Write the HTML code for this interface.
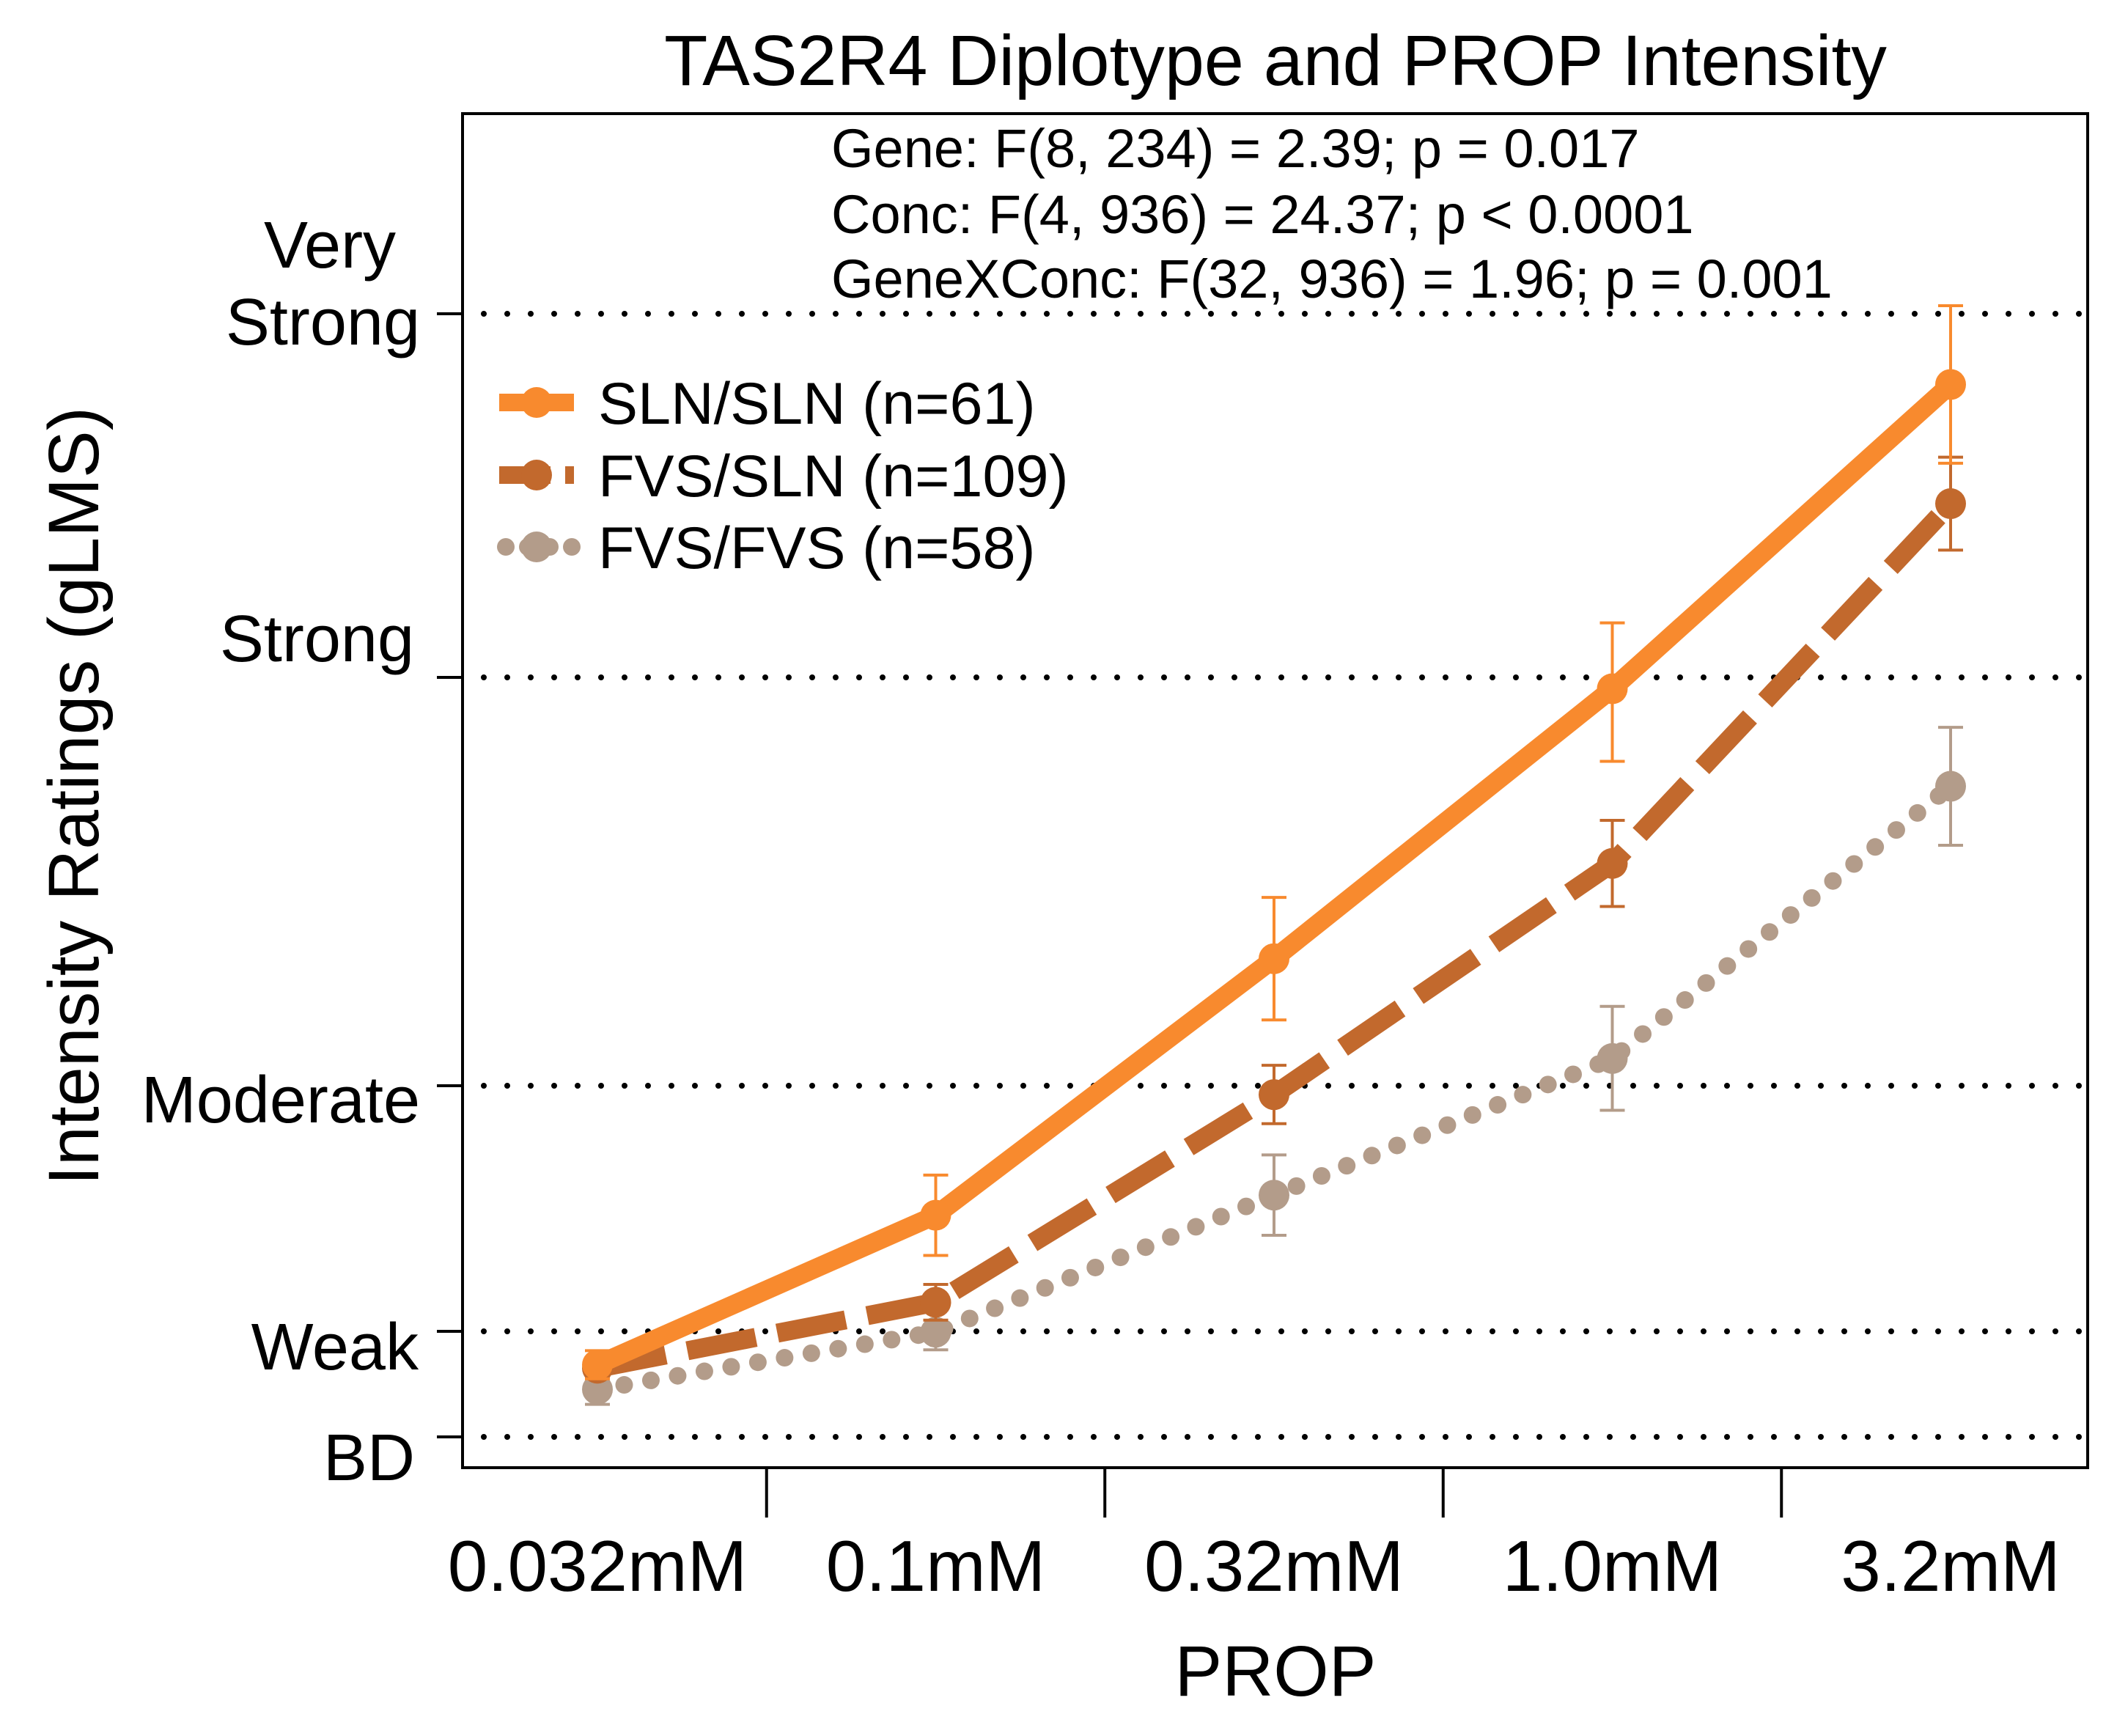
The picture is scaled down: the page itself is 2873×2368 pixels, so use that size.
<!DOCTYPE html>
<html><head><meta charset="utf-8">
<style>html,body{margin:0;padding:0;background:#fff}svg{display:block}text{font-family:"Liberation Sans",Arial,sans-serif;fill:#000}</style>
</head><body>
<svg id="chart" width="2873" height="2368" viewBox="0 0 2873 2368" xmlns="http://www.w3.org/2000/svg">
<text x="1740" y="116" font-size="97" text-anchor="middle">TAS2R4 Diplotype and PROP Intensity</text>
<g font-size="74">
<text x="1134" y="228">Gene: F(8, 234) = 2.39;  p = 0.017</text>
<text x="1134" y="318">Conc: F(4, 936) = 24.37; p &lt; 0.0001</text>
<text x="1134" y="406">GeneXConc: F(32, 936) = 1.96; p = 0.001</text>
</g>
<g id="grid"></g>
<rect x="631" y="155" width="2217" height="1847" fill="none" stroke="#000" stroke-width="4"/>
<g id="yaxis" font-size="90"></g>
<g id="xaxis" font-size="98"></g>
<text x="1740" y="2313" font-size="97" text-anchor="middle">PROP</text>
<text transform="translate(134,1086) rotate(-90)" font-size="97" text-anchor="middle">Intensity Ratings (gLMS)</text>
<g id="series"></g>
<g id="legend" font-size="81"></g>
</svg>
<script>
const categories = ["0.032mM","0.1mM","0.32mM","1.0mM","3.2mM"];
const seriesNames = ["SLN/SLN (n=61)","FVS/SLN (n=109)","FVS/FVS (n=58)"];
const slnMeans = [4.1, 11.2, 22.6, 34.5, 49.5];
const slnErr = [0.8, 1.8, 2.7, 3.2, 3.9];
const fsMeans = [3.9, 7.3, 16.6, 26.8, 43.6];
const fsErr = [0.5, 0.8, 1.3, 1.9, 2.3];
const ffMeans = [2.7, 5.95, 12.1, 18.2, 30.2];
const ffErr = [0.85, 1.0, 1.8, 2.3, 2.6];
const yLabels = ["BD","Weak","Moderate","Strong","Very Strong"];
const yValues = [0, 6, 17, 35, 53];

const NS="http://www.w3.org/2000/svg";
const yPix=[1960,1816,1481,924,428];
function yScale(v){
  for(let i=0;i<yValues.length-1;i++){
    if(v<=yValues[i+1]||i===yValues.length-2){
      const t=(v-yValues[i])/(yValues[i+1]-yValues[i]);
      return yPix[i]+t*(yPix[i+1]-yPix[i]);
    }
  }
}
function xScale(i){return 815+i*461.5;}
function mk(tag,attrs,parent){const e=document.createElementNS(NS,tag);for(const k in attrs)e.setAttribute(k,attrs[k]);parent.appendChild(e);return e;}
const grid=document.getElementById('grid'),yax=document.getElementById('yaxis'),xax=document.getElementById('xaxis');
yValues.forEach((v,i)=>{
  const y=yScale(v);
  const g=mk('line',{x1:660,x2:2848,y1:y,y2:y,stroke:'#000','stroke-width':8,'stroke-dasharray':'0 32','stroke-linecap':'round'},grid);
  
  
  const t=mk('line',{x1:596,x2:631,y1:y,y2:y,stroke:'#000','stroke-width':4},yax);
  
  
});
const lblPos=[[566,2019,'end'],[571,1868,'end'],[573,1531,'end'],[565,902,'end']];
yLabels.slice(0,4).forEach((l,i)=>{
  const t=mk('text',{x:lblPos[i][0],y:lblPos[i][1],'text-anchor':lblPos[i][2]},yax);t.textContent=l;
  
  
});
let t1=mk('text',{x:450,y:365,'text-anchor':'middle'},yax);t1.textContent='Very';


let t2=mk('text',{x:573,y:470,'text-anchor':'end'},yax);t2.textContent='Strong';


categories.forEach((c,i)=>{
  const t=mk('text',{x:xScale(i),y:2170,'text-anchor':'middle'},xax);t.textContent=c;
  
  
  if(i<categories.length-1){
    const x=(xScale(i)+xScale(i+1))/2;
    const tk=mk('line',{x1:x,x2:x,y1:2002,y2:2070,stroke:'#000','stroke-width':4},xax);
    
    
  }
});
const ser=document.getElementById('series');
const defs=[
  {m:ffMeans,e:ffErr,c:'#B39C8A',dash:'0 37',w:24,name:'fvs-fvs'},
  {m:fsMeans,e:fsErr,c:'#C2692D',dash:'95 30',w:26,name:'fvs-sln'},
  {m:slnMeans,e:slnErr,c:'#F88A2E',dash:'',w:26,name:'sln-sln'}
];
defs.forEach(s=>{
  const g=mk('g',{},ser);
  
  
  s.m.forEach((v,i)=>{
    const x=xScale(i),y1=yScale(v+s.e[i]),y2=yScale(v-s.e[i]);
    const eb=mk('path',{d:`M${x},${y1}V${y2}M${x-17},${y1}H${x+17}M${x-17},${y2}H${x+17}`,stroke:s.c,'stroke-width':4,fill:'none'},g);
    
    
  });
  const pts=s.m.map((v,i)=>xScale(i)+','+yScale(v)).join(' ');
  const pl=mk('polyline',{points:pts,fill:'none',stroke:s.c,'stroke-width':s.w,'stroke-linecap':s.dash.startsWith('0')?'round':'butt','stroke-linejoin':'round'},g);
  if(s.dash)pl.setAttribute('stroke-dasharray',s.dash);
  
  
  s.m.forEach((v,i)=>{
    const c=mk('circle',{cx:xScale(i),cy:yScale(v),r:21,fill:s.c},g);
    
    
  });
});
const leg=document.getElementById('legend');
const lc=['#F88A2E','#C2692D','#B39C8A'],ld=['','70 20','0 30'],ly=[549,648,746];
seriesNames.forEach((n,i)=>{
  const g=mk('g',{},leg);
  
  
  const l=mk('line',{x1:ld[i].startsWith('0')?690:681,x2:783,y1:ly[i],y2:ly[i],stroke:lc[i],'stroke-width':24,'stroke-linecap':ld[i].startsWith('0')?'round':'butt'},g);
  if(ld[i])l.setAttribute('stroke-dasharray',ld[i]);
  mk('circle',{cx:732,cy:ly[i],r:21,fill:lc[i]},g);
  const t=mk('text',{x:816,y:ly[i]+29},g);t.textContent=n;
});
</script>
</body></html>
